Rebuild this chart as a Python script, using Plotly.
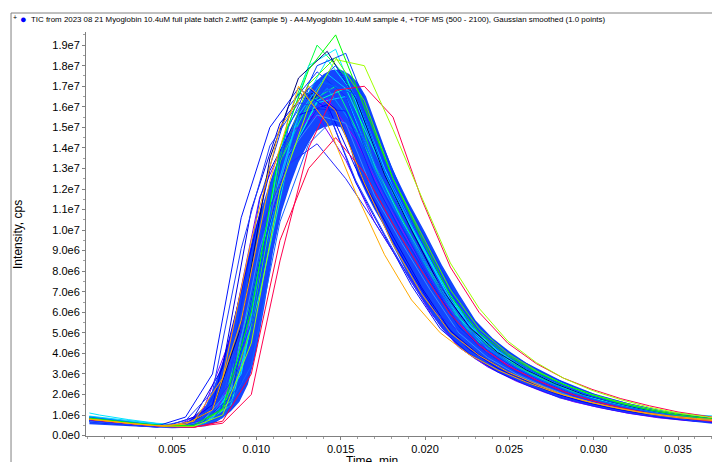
import plotly.graph_objects as go

# scan times (min) - three slightly different sampling grids
time_a = [0.0001, 0.0018, 0.0035, 0.0052, 0.0068, 0.0085, 0.0102, 0.0119, 0.0136, 0.0153, 0.0170, 0.0186,
          0.0203, 0.0220, 0.0237, 0.0254, 0.0271, 0.0288, 0.0304, 0.0321, 0.0338, 0.0355, 0.0372]
time_b = [0.0001, 0.0012, 0.0029, 0.0046, 0.0063, 0.0080, 0.0097, 0.0114, 0.0131, 0.0147, 0.0164, 0.0181,
          0.0198, 0.0215, 0.0232, 0.0249, 0.0266, 0.0282, 0.0299, 0.0316, 0.0333, 0.0350, 0.0367, 0.0372]
time_c = [0.0001, 0.0007, 0.0024, 0.0041, 0.0058, 0.0074, 0.0091, 0.0108, 0.0125, 0.0142, 0.0159, 0.0176,
          0.0192, 0.0209, 0.0226, 0.0243, 0.0260, 0.0277, 0.0294, 0.0310, 0.0327, 0.0344, 0.0361, 0.0372]

# dense core of overlapping samples (upper / lower edge), intensity in 1e6 cps
core_time = [0.0001, 0.002, 0.004, 0.005, 0.006, 0.007, 0.0075, 0.008, 0.0085, 0.009, 0.0095, 0.010, 0.0105,
             0.011, 0.0115, 0.012, 0.0125, 0.013, 0.0135, 0.014, 0.0145, 0.015, 0.0155, 0.016, 0.0165, 0.017,
             0.0175, 0.018, 0.019, 0.020, 0.021, 0.022, 0.023, 0.024, 0.025, 0.026, 0.028, 0.030, 0.032, 0.034,
             0.036, 0.0372]
core_upper = [0.95, 0.75, 0.58, 0.52, 0.72, 1.45, 2.4, 3.6, 5.0, 6.8, 8.7, 10.3, 11.6, 12.8, 13.9, 14.9, 15.8,
              16.6, 17.2, 17.6, 17.8, 17.8, 17.6, 17.2, 16.5, 15.4, 14.2, 13.1, 11.4, 9.9, 8.3, 6.9, 5.6, 4.75,
              4.1, 3.55, 2.7, 2.05, 1.58, 1.22, 0.95, 0.85]
core_lower = [0.55, 0.5, 0.4, 0.36, 0.38, 0.46, 0.6, 0.85, 1.2, 1.65, 2.5, 4.1, 6.4, 9.0, 10.9, 12.2, 13.3,
              14.1, 14.8, 15.0, 15.1, 15.0, 14.2, 12.7, 11.8, 11.0, 10.3, 9.4, 7.8, 6.4, 5.2, 4.3, 3.7, 3.2,
              2.8, 2.45, 1.8, 1.4, 1.08, 0.84, 0.67, 0.56]

# individual samples: (grid, colour, intensities in 1e6 cps)
samples = [
    ("a", "#00ff40", [0.8, 0.66, 0.52, 0.44, 0.6, 1.7, 8.5, 15.5, 19.0, 17.5, 13.2, 10.6, 8.0, 5.8, 4.4, 3.4, 2.7,
                      2.12, 1.7, 1.38, 1.12, 0.95, 0.78]),
    ("b", "#00ff80", [0.78, 0.7, 0.58, 0.46, 0.5, 1.4, 6.6, 13.3, 16.2, 17.0, 14.1, 11.2, 8.6, 6.2, 4.55, 3.55,
                      2.85, 2.25, 1.78, 1.45, 1.15, 0.93, 0.78, 0.74]),
    ("c", "#00e6ff", [1.1, 1.0, 0.78, 0.6, 0.5, 0.85, 3.0, 10.2, 15.8, 18.3, 16.5, 13.0, 10.3, 7.6, 5.5, 4.2,
                      3.35, 2.7, 2.1, 1.72, 1.4, 1.15, 1.0, 0.95]),
    ("b", "#00f0ff", [0.9, 0.8, 0.64, 0.5, 0.48, 1.3, 5.9, 13.8, 18.0, 18.8, 15.2, 11.8, 9.2, 6.6, 4.8, 3.7,
                      2.95, 2.35, 1.85, 1.48, 1.18, 0.96, 0.82, 0.78]),
    ("a", "#00d2ff", [0.95, 0.8, 0.62, 0.48, 0.59, 1.7, 7.85, 13.5, 16.2, 16.5, 13.2, 10.5, 8.05, 5.75, 4.25, 3.33,
                      2.65, 2.06, 1.69, 1.36, 1.09, 0.88, 0.73]),
    ("c", "#0096ff", [0.78, 0.72, 0.59, 0.46, 0.43, 0.95, 3.7, 11.0, 15.4, 16.9, 14.9, 11.9, 9.5, 7.0, 5.05, 3.87,
                      3.05, 2.44, 1.88, 1.55, 1.26, 1.0, 0.85, 0.72]),
    ("c", "#9b00ff", [0.76, 0.7, 0.57, 0.45, 0.42, 0.9, 3.5, 10.5, 14.9, 16.4, 14.4, 11.5, 9.2, 6.8, 4.9, 3.75,
                      2.95, 2.35, 1.83, 1.5, 1.22, 0.97, 0.82, 0.7]),
    ("a", "#7800ff", [0.76, 0.62, 0.5, 0.41, 1.15, 4.8, 11.6, 14.7, 15.6, 13.4, 10.4, 8.3, 6.0, 4.3, 3.35, 2.65,
                      2.1, 1.65, 1.35, 1.08, 0.87, 0.73, 0.65]),
    ("a", "#0a32ff", [0.82, 0.66, 0.52, 0.43, 0.95, 3.5, 11.5, 16.0, 17.7, 16.5, 12.7, 10.2, 7.6, 5.35, 4.15, 3.25,
                      2.57, 2.03, 1.65, 1.34, 1.07, 0.89, 0.73]),
    ("b", "#1e50ff", [0.74, 0.66, 0.53, 0.43, 0.58, 1.75, 8.0, 13.8, 16.5, 16.9, 13.7, 10.7, 8.2, 5.85, 4.35, 3.4,
                      2.7, 2.15, 1.72, 1.39, 1.11, 0.9, 0.74, 0.72]),
    ("c", "#0000ff", [0.7, 0.64, 0.52, 0.42, 0.55, 1.5, 7.0, 12.9, 15.6, 16.1, 13.0, 10.2, 7.9, 5.65, 4.2, 3.28,
                      2.6, 2.05, 1.63, 1.33, 1.06, 0.86, 0.71, 0.68]),
    ("a", "#00ffc8", [0.85, 0.7, 0.55, 0.44, 0.53, 1.5, 6.9, 13.4, 16.3, 16.9, 13.9, 11.0, 8.45, 6.1, 4.5, 3.5,
                      2.8, 2.2, 1.75, 1.42, 1.14, 0.92, 0.76]),
    ("c", "#0014ff", [0.8, 0.72, 0.58, 0.46, 0.9, 3.0, 10.6, 15.0, 16.9, 15.9, 12.3, 9.7, 7.3, 5.2, 4.0, 3.1,
                      2.47, 1.95, 1.57, 1.27, 1.03, 0.85, 0.7, 0.65]),
    ("c", "#00c8ff", [0.92, 0.85, 0.66, 0.5, 0.44, 0.88, 3.1, 10.9, 15.6, 17.6, 16.5, 12.8, 10.2, 7.6, 5.4, 4.15,
                      3.25, 2.6, 2.03, 1.65, 1.33, 1.07, 0.87, 0.74]),
    ("a", "#0040ff", [0.85, 0.68, 0.55, 0.45, 0.6, 1.75, 8.1, 15.0, 18.0, 18.6, 15.1, 11.9, 9.1, 6.5, 4.85, 3.8,
                      3.0, 2.37, 1.9, 1.54, 1.23, 0.99, 0.8]),
    ("b", "#50ff00", [0.82, 0.72, 0.58, 0.47, 0.49, 1.24, 5.2, 13.3, 17.1, 18.4, 16.3, 12.5, 9.8, 7.1, 5.2, 4.0,
                      3.16, 2.5, 2.0, 1.62, 1.3, 1.05, 0.86, 0.78]),
    ("c", "#00007a", [0.8, 0.74, 0.6, 0.48, 0.5, 1.27, 5.3, 13.5, 17.4, 18.7, 16.4, 12.7, 10.0, 7.25, 5.3, 4.05,
                      3.2, 2.53, 2.0, 1.65, 1.32, 1.07, 0.88, 0.79]),
    ("b", "#1464ff", [0.72, 0.64, 0.52, 0.42, 0.4, 0.87, 3.4, 10.4, 14.2, 15.5, 14.5, 11.1, 8.75, 6.45, 4.6, 3.56,
                      2.8, 2.25, 1.78, 1.43, 1.15, 0.92, 0.75, 0.69]),
    ("a", "#0028ff", [0.7, 0.6, 0.49, 0.4, 0.65, 1.9, 8.55, 13.6, 15.9, 15.8, 12.35, 9.9, 7.5, 5.3, 4.0, 3.13,
                      2.49, 1.96, 1.59, 1.28, 1.03, 0.88, 0.68]),
    ("a", "#3c8cff", [0.7, 0.58, 0.47, 0.39, 0.7, 2.3, 9.1, 13.7, 15.6, 15.2, 11.7, 9.4, 7.1, 5.0, 3.8, 3.0,
                      2.37, 1.86, 1.52, 1.23, 0.98, 0.8, 0.67]),
    ("c", "#0050ff", [0.76, 0.7, 0.58, 0.45, 0.44, 0.77, 2.55, 10.0, 15.0, 17.1, 16.6, 12.85, 10.3, 7.75, 5.5, 4.2,
                      3.26, 2.6, 2.04, 1.66, 1.35, 1.07, 0.88, 0.73]),
    ("b", "#0000e6", [0.8, 0.7, 0.55, 0.44, 0.9, 3.3, 11.0, 15.2, 16.9, 15.9, 12.3, 9.7, 7.2, 5.1, 3.93, 3.09,
                      2.44, 1.95, 1.57, 1.27, 1.02, 0.83, 0.68, 0.66]),
    ("a", "#0064ff", [0.9, 0.72, 0.56, 0.44, 0.77, 2.6, 10.1, 15.1, 17.3, 16.8, 13.0, 10.4, 7.8, 5.55, 4.2, 3.3,
                      2.63, 2.06, 1.68, 1.36, 1.08, 0.89, 0.74]),
    ("c", "#1e3cff", [0.72, 0.66, 0.52, 0.41, 0.73, 2.13, 9.1, 14.1, 16.2, 15.9, 12.4, 9.8, 7.45, 5.35, 4.05, 3.15,
                      2.5, 1.97, 1.58, 1.29, 1.04, 0.89, 0.7, 0.68]),
    ("b", "#0a46ff", [0.83, 0.72, 0.58, 0.47, 0.5, 1.33, 5.5, 13.4, 16.9, 18.0, 15.8, 12.2, 9.55, 6.9, 4.98, 3.87,
                      3.07, 2.44, 1.91, 1.56, 1.25, 1.0, 0.85, 0.76]),
    ("a", "#2828ff", [0.75, 0.6, 0.48, 0.4, 0.75, 2.6, 10.0, 13.2, 14.2, 12.5, 10.4, 8.3, 6.2, 5.1, 4.0, 3.15,
                      2.5, 1.95, 1.55, 1.25, 1.0, 0.82, 0.65]),
    ("b", "#ff0040", [0.78, 0.68, 0.55, 0.44, 0.4, 0.7, 3.0, 9.5, 13.0, 14.5, 12.8, 10.3, 8.0, 5.9, 4.4, 3.4,
                      2.7, 2.15, 1.7, 1.36, 1.08, 0.88, 0.72, 0.68]),
    ("b", "#ff0050", [0.8, 0.7, 0.56, 0.45, 0.42, 0.6, 2.0, 8.5, 14.0, 16.8, 17.0, 15.5, 11.5, 8.2, 6.0, 4.5,
                      3.5, 2.8, 2.25, 1.8, 1.45, 1.15, 0.92, 0.88]),
    ("b", "#a0ff00", [0.8, 0.7, 0.57, 0.46, 0.45, 1.0, 4.5, 12.0, 16.0, 18.3, 18.0, 14.9, 11.6, 8.4, 6.2, 4.6,
                      3.55, 2.8, 2.2, 1.75, 1.38, 1.1, 0.9, 0.86]),
    ("b", "#00ff00", [0.85, 0.75, 0.6, 0.48, 0.5, 1.3, 6.0, 14.0, 17.8, 19.5, 16.0, 12.5, 9.6, 6.8, 5.0, 3.9,
                      3.1, 2.5, 1.98, 1.57, 1.25, 1.0, 0.84, 0.8]),
    ("b", "#ffa500", [0.8, 0.7, 0.56, 0.45, 0.7, 2.8, 9.5, 15.0, 17.0, 15.8, 12.3, 9.3, 6.9, 5.0, 3.9, 3.1,
                      2.5, 1.98, 1.6, 1.3, 1.05, 0.87, 0.74, 0.72]),
    ("c", "#ffaa00", [0.8, 0.76, 0.6, 0.48, 0.55, 1.25, 5.6, 12.4, 17.0, 15.2, 11.8, 8.8, 6.6, 5.0, 3.95, 3.2,
                      2.6, 2.1, 1.7, 1.4, 1.15, 0.97, 0.83, 0.78]),
]
grids = {"a": time_a, "b": time_b, "c": time_c}

y_ticks = [i * 1e6 for i in range(20)]
y_labels = ["0.0e0", "1.0e6", "2.0e6", "3.0e6", "4.0e6", "5.0e6", "6.0e6", "7.0e6", "8.0e6", "9.0e6",
            "1.0e7", "1.1e7", "1.2e7", "1.3e7", "1.4e7", "1.5e7", "1.6e7", "1.7e7", "1.8e7", "1.9e7"]
x_ticks = [0.005, 0.010, 0.015, 0.020, 0.025, 0.030, 0.035]
x_labels = ["0.005", "0.010", "0.015", "0.020", "0.025", "0.030", "0.035"]

apex_label = "0.014"
apex_pos = (0.0131, 16.5e6)
threshold = 1.0e6
x_min, x_max = -0.0001, 0.03725

title = ("TIC from 2023 08 21 Myoglobin 10.4uM full plate batch 2.wiff2 (sample 5) - A4-Myoglobin 10.4uM "
         "sample 4, +TOF MS (500 - 2100), Gaussian smoothed (1.0 points)")

fig = go.Figure()

fig.add_trace(go.Scatter(x=core_time + core_time[::-1],
                         y=[v * 1e6 for v in core_upper] + [v * 1e6 for v in core_lower[::-1]],
                         fill="toself", fillcolor="#1446ff", line=dict(width=0), mode="lines",
                         hoverinfo="skip"))

fig.add_trace(go.Scatter(x=[apex_pos[0]], y=[apex_pos[1]], mode="text", text=[apex_label],
                         textfont=dict(family="Liberation Sans", size=9, color="#14145a")))

for g, col, vals in samples:
    fig.add_trace(go.Scatter(x=grids[g], y=[v * 1e6 for v in vals], mode="lines",
                             line=dict(color=col, width=1)))

fig.add_trace(go.Scatter(x=[x_min - 0.00018], y=[threshold], mode="markers", cliponaxis=False,
                         marker=dict(symbol="diamond", size=6, color="#0000ff")))

axis_common = dict(showgrid=False, zeroline=False, showline=True, linecolor="#808080", linewidth=1,
                   ticks="outside", ticklen=3, tickcolor="#808080", automargin=False)

# the page body adds an 8px offset, so the figure is 8px smaller than the window
fig.update_layout(
    width=712, height=454,
    margin=dict(l=78, r=4, t=24, b=26, autoexpand=False),
    paper_bgcolor="white", plot_bgcolor="white",
    showlegend=False,
    font=dict(family="Liberation Sans, Arial", size=11, color="#000000"),
    xaxis=dict(range=[x_min, x_max], tickvals=x_ticks, ticktext=x_labels,
               minor=dict(dtick=0.001, ticks="outside", ticklen=2, tickcolor="#a0a0a0"), **axis_common),
    yaxis=dict(range=[-0.02e6, 19.64e6], tickvals=y_ticks, ticktext=y_labels,
               minor=dict(dtick=0.5e6, ticks="outside", ticklen=2, tickcolor="#a0a0a0"), **axis_common),
    shapes=[
        dict(type="line", xref="paper", yref="paper", x0=-0.119, x1=1.02, y0=1.047, y1=1.047,
             line=dict(color="#808080", width=1)),
        dict(type="line", xref="paper", yref="paper", x0=-0.119, x1=-0.119, y0=-0.07, y1=1.047,
             line=dict(color="#808080", width=1)),
    ],
    annotations=[
        dict(text="+", xref="paper", yref="paper", x=-0.1125, y=1.035, showarrow=False,
             xanchor="center", yanchor="middle", font=dict(size=7, color="#000000")),
        dict(text="●", xref="paper", yref="paper", x=-0.1, y=1.032, showarrow=False,
             xanchor="center", yanchor="middle", font=dict(size=11, color="#0000ff")),
        dict(text=title, xref="paper", yref="paper", x=-0.0905, y=1.032, showarrow=False,
             xanchor="left", yanchor="middle",
             font=dict(family="Liberation Sans, Arial", size=7.9, color="#000000")),
        dict(text="Intensity, cps", xref="paper", yref="paper", x=-0.108, y=0.5, showarrow=False,
             textangle=-90, xanchor="center", yanchor="middle", font=dict(size=12)),
        dict(text="Time, min", xref="paper", yref="paper", x=0.454, y=-0.039, showarrow=False,
             xanchor="center", yanchor="top", font=dict(size=12)),
    ],
)

fig.write_html("out.html")
